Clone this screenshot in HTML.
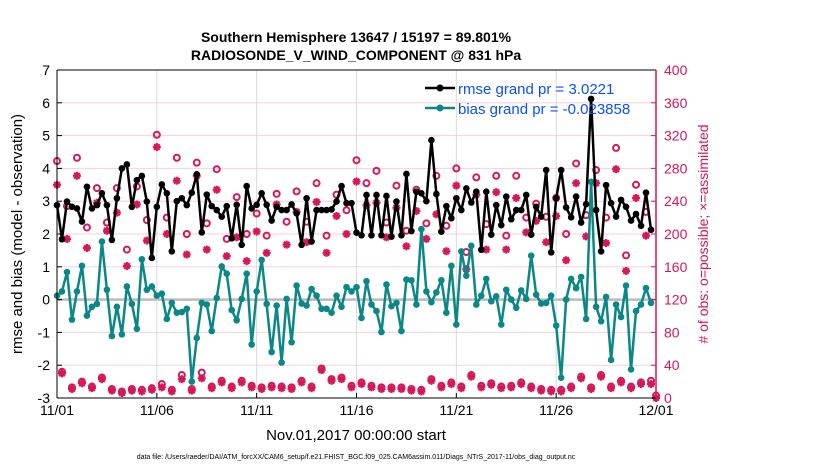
<!DOCTYPE html>
<html><head><meta charset="utf-8"><style>
html,body{margin:0;padding:0;background:#fff;}
svg{display:block;font-family:"Liberation Sans",sans-serif;}
</style></head><body>
<svg id="chart" width="830" height="470" viewBox="0 0 830 470" xmlns="http://www.w3.org/2000/svg">
<text x="356" y="42" text-anchor="middle" font-size="14" font-weight="bold">Southern Hemisphere 13647 / 15197 = 89.801%</text>
<text x="356" y="60" text-anchor="middle" font-size="14" font-weight="bold">RADIOSONDE_V_WIND_COMPONENT @ 831 hPa</text>
<g id="grid"></g>
<g id="series"></g>
<g id="axes"></g>
<text x="356" y="440" text-anchor="middle" font-size="15">Nov.01,2017 00:00:00 start</text>
<text transform="translate(22,234) rotate(-90)" text-anchor="middle" font-size="15">rmse and bias (model - observation)</text>
<text transform="translate(708,234) rotate(-90)" text-anchor="middle" font-size="14" fill="#d6175a">#&#160;of obs: o=possible; ×=assimilated</text>
<text x="356" y="459" text-anchor="middle" font-size="7">data file: /Users/raeder/DAI/ATM_forcXX/CAM6_setup/f.e21.FHIST_BGC.f09_025.CAM6assim.011/Diags_NTrS_2017-11/obs_diag_output.nc</text>
<g>
<line x1="425" y1="88" x2="455" y2="88" stroke="#000" stroke-width="2.5"/><circle cx="440" cy="88" r="3.5" fill="#000"/>
<text x="458" y="94" font-size="15" fill="#0a4fff">rmse grand pr = 3.0221</text>
<line x1="425" y1="108" x2="455" y2="108" stroke="#0a8787" stroke-width="2.5"/><circle cx="440" cy="108" r="3.5" fill="#0a8787"/>
<text x="458" y="114" font-size="15" fill="#0a4fff">bias grand pr = -0.023858</text>
</g>
</svg>
<script>
const rmse=[2.88,1.84,2.99,2.83,2.78,2.38,3.44,2.78,2.88,3.24,2.88,1.82,3.09,4.0,4.12,2.83,3.64,3.77,2.99,1.27,2.83,3.51,3.24,1.47,3.0,3.09,2.88,3.26,3.82,2.05,3.2,
2.85,2.73,2.53,2.85,1.87,2.89,1.67,3.46,2.78,2.89,3.24,2.89,2.41,2.83,2.73,2.73,2.90,2.63,1.67,3.09,1.77,2.73,2.73,2.73,2.75,2.99,3.46,2.94,2.94,2.04,
1.96,3.19,1.96,3.19,1.96,3.16,1.92,2.99,1.96,3.83,2.09,3.29,3.24,3.0,4.86,3.22,2.07,2.85,2.48,3.09,2.73,3.39,2.96,3.29,1.52,3.29,1.98,2.88,2.27,3.14,
2.45,2.73,2.73,3.19,1.98,2.83,2.53,3.95,1.44,3.09,3.95,2.81,2.51,3.14,2.35,2.91,6.12,2.73,1.47,3.49,2.94,2.53,3.04,2.83,2.41,2.61,2.25,3.26,2.13];
const bias=[0.12,0.25,0.84,-0.61,0.25,1.03,-0.49,-0.22,-0.13,1.77,0.30,-1.11,-0.22,-1.06,0.40,-0.13,-0.89,1.23,0.30,0.40,0.12,0.18,-0.59,-0.10,-0.40,-0.38,-0.28,-2.5,-1.17,-0.10,-0.15,
-0.96,0.05,1.01,0.79,-0.32,-0.63,0.02,0.79,-1.37,0.25,1.21,-0.13,-1.6,-0.18,-1.92,0.02,-1.3,0.43,-0.12,-0.18,0.32,0.12,-0.28,-0.28,-0.4,0.12,-0.22,0.38,0.25,0.38,
-0.56,0.56,-0.15,-0.35,-0.99,0.46,-0.2,-0.1,-0.96,0.61,0.59,-0.15,2.15,0.25,-0.08,0.22,0.59,-0.4,1.03,-0.76,1.47,0.73,1.64,-0.15,0.12,0.63,-0.05,0.1,-0.76,0.3,
0.0,-0.25,0.28,0.02,1.34,0.15,-0.12,-0.10,0.12,-0.79,-2.38,0.0,0.63,0.35,0.69,-0.59,3.59,-0.22,-0.66,0.08,-1.84,-0.15,-0.53,0.43,-2.13,-0.35,-0.15,0.35,-0.10];
const assimilated=[260,30,194,11,271,18,183,12,238,23,204,9,226,6,161,9,236,8,192,10,306,13,200,8,265,23,175,9,271,24,181,
12,254,19,173,12,196,19,167,13,203,11,177,13,236,12,187,11,227,19,190,12,239,34,177,21,222,23,200,13,264,
17,235,13,238,11,196,11,232,11,185,9,228,8,194,21,224,13,179,17,259,12,157,26,248,13,181,16,251,12,181,
13,244,17,202,12,216,9,190,8,222,8,168,12,262,24,197,11,262,26,189,12,279,19,155,12,244,17,198,17,0];
const possible=[289,32,234,13,293,20,208,14,256,25,214,11,256,8,181,11,258,10,217,12,321,17,220,10,293,28,200,11,287,31,213,
14,279,21,194,14,245,21,200,15,225,13,198,15,249,14,215,13,252,21,215,14,262,36,198,23,248,25,229,15,290,
19,262,15,277,13,214,13,259,13,204,11,254,10,213,23,271,15,210,19,280,14,178,28,269,15,212,18,271,14,198,
15,271,19,220,14,237,11,221,10,244,10,200,14,286,26,223,13,278,28,220,14,305,21,174,14,260,19,227,21,3];
const leftTicks=[-3,-2,-1,0,1,2,3,4,5,6,7];
const rightTicks=[0,40,80,120,160,200,240,280,320,360,400];
const xTickDays=[0,5,10,15,20,25,30];
const xTickLabels=["11/01","11/06","11/11","11/16","11/21","11/26","12/01"];

const X0=57,X1=656,Y0=70,Y1=398;
const NS="http://www.w3.org/2000/svg";
const xs=d=>X0+(d/30)*(X1-X0);
const yl=v=>Y1-(v+3)/10*(Y1-Y0);
const yr=v=>Y1-v/400*(Y1-Y0);
const idxDay=i=>i*0.25;
function mk(tag,attrs,parent){const e=document.createElementNS(NS,tag);for(const k in attrs)e.setAttribute(k,attrs[k]);parent.appendChild(e);return e;}
const grid=document.getElementById('grid'),ser=document.getElementById('series'),ax=document.getElementById('axes');
mk('rect',{x:X0,y:Y0,width:X1-X0,height:Y1-Y0,fill:'#fff'},grid);
leftTicks.forEach(t=>{
  const l=mk('line',{x1:X0,x2:X1,y1:yl(t),y2:yl(t),stroke:t===0?'#bbbbbb':'#f5cfdc','stroke-width':t===0?2.5:1},grid);
  
  
  const tx=mk('text',{x:X0-7,y:yl(t)+5,'text-anchor':'end','font-size':14},ax);tx.textContent=t;
  
  
  mk('line',{x1:X0,x2:X0+5,y1:yl(t),y2:yl(t),stroke:'#000'},ax);
});
xTickDays.forEach((d,k)=>{
  const l=mk('line',{x1:xs(d),x2:xs(d),y1:Y0,y2:Y1,stroke:'#d9d9d9','stroke-width':1},grid);
  
  
  const tx=mk('text',{x:xs(d),y:Y1+17,'text-anchor':'middle','font-size':14},ax);tx.textContent=xTickLabels[k];
  
  
  mk('line',{x1:xs(d),x2:xs(d),y1:Y1,y2:Y1-5,stroke:'#000'},ax);
});
rightTicks.forEach(t=>{
  const tx=mk('text',{x:X1+8,y:yr(t)+5,'font-size':14,fill:'#d6175a'},ax);tx.textContent=t;
  
  
  mk('line',{x1:X1,x2:X1-5,y1:yr(t),y2:yr(t),stroke:'#d6175a'},ax);
});
mk('line',{x1:X0,x2:X0,y1:Y0,y2:Y1,stroke:'#000'},ax);
mk('line',{x1:X0,x2:X1,y1:Y1,y2:Y1,stroke:'#000'},ax);
mk('line',{x1:X0,x2:X1,y1:Y0,y2:Y0,stroke:'#000'},ax);
mk('line',{x1:X1,x2:X1,y1:Y0,y2:Y1,stroke:'#d6175a','stroke-width':1.5},ax);

// obs counts
assimilated.forEach((v,i)=>{
  const cx=xs(idxDay(i)),cy=yr(v);
  const g=mk('g',{stroke:'#d6175a','stroke-width':2.2},ser);
  
  
  for(let a=0;a<4;a++){const ang=a*Math.PI/4,dx=4*Math.cos(ang),dy=4*Math.sin(ang);
    mk('line',{x1:cx-dx,y1:cy-dy,x2:cx+dx,y2:cy+dy},g);}
});
possible.forEach((v,i)=>{
  const c=mk('circle',{cx:xs(idxDay(i)),cy:yr(v),r:3,fill:'none',stroke:'#d6175a','stroke-width':2},ser);
  
  
});
function line(arr,color,name){
  const p=arr.map((v,i)=>(i?'L':'M')+xs(idxDay(i)).toFixed(1)+' '+yl(v).toFixed(1)).join('');
  const pa=mk('path',{d:p,fill:'none',stroke:color,'stroke-width':2.5,'stroke-linejoin':'round'},ser);
  
  
  arr.forEach((v,i)=>{
    const c=mk('circle',{cx:xs(idxDay(i)),cy:yl(v),r:3.3,fill:color},ser);
    
    
  });
}
line(bias,'#0a8787','bias');
line(rmse,'#000000','rmse');
</script>
</body></html>
